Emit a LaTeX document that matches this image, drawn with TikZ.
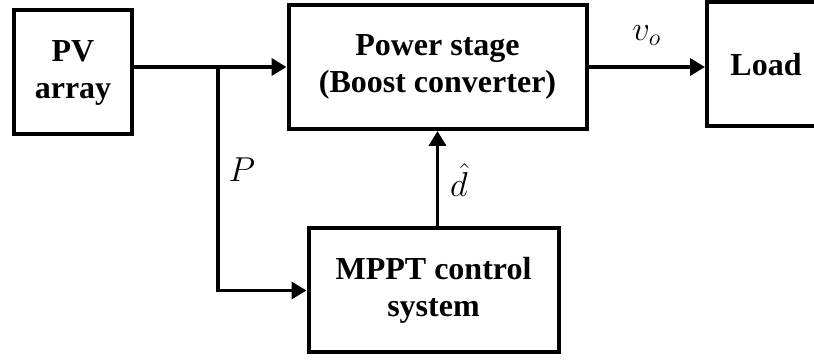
\documentclass[tikz,border=0pt]{standalone}
\usepackage{fontspec}
\setmainfont{Liberation Serif}
\usetikzlibrary{arrows.meta,positioning}
\tikzset{
	block/.style={
		draw, rectangle, line width=2pt, text=black,
		minimum height=62pt, inner sep=2pt, align=center,
		font=\bfseries\fontsize{16}{18.5}\selectfont
	},
	sig/.style={line width=1.8pt, -{Triangle[length=7.5pt,width=8.5pt]}},
	lbl/.style={font=\fontsize{18}{20}\selectfont, inner sep=0pt}
}

\begin{document}
\begin{tikzpicture}[x=0.5pt,y=-0.5pt]
	\useasboundingbox (0,0) rectangle (814,362);
	\clip (0,0) rectangle (814,362);
	\node[block, minimum width=59pt] (pv)    at (73,72.5)   {PV\\array};
	\node[block, minimum width=149pt] (power) at (437.5,67) {Power stage\\(Boost converter)};
	\node[block, minimum width=59pt] (load)  at (766,64.5)  {Load};
	\node[block, minimum width=125pt] (mppt) at (433.5,290.5) {MPPT control\\system};
	\coordinate (split) at (218,67);
	\draw[sig] (pv.east |- power.west) -- (power.west);
	\draw[sig] (power.east) -- node[lbl, above=10pt] (vo) {$v_o$} (load.west |- power.east);
	\draw[sig] (split) |- (mppt.west);
	\draw[sig] (power.south |- mppt.north) -- (power.south);
	\node[lbl] (p) at (242,170) {$P$};
	\node[lbl] (dh) at (459,180) {$\hat{d}$};
\end{tikzpicture}
\end{document}
